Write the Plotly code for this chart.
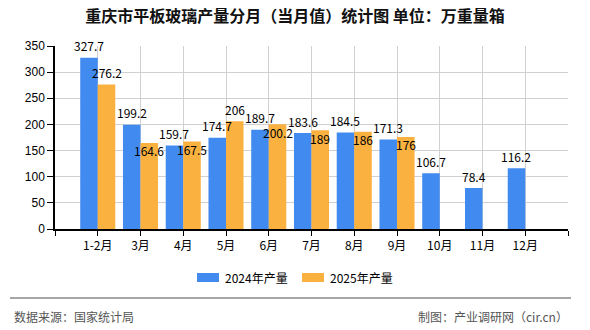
import plotly.graph_objects as go

categories = ["1-2月", "3月", "4月", "5月", "6月", "7月", "8月", "9月", "10月", "11月", "12月"]
values_2024 = [327.7, 199.2, 159.7, 174.7, 189.7, 183.6, 184.5, 171.3, 106.7, 78.4, 116.2]
values_2025 = [276.2, 164.6, 167.5, 206, 200.2, 189, 186, 176]
series_names = ["2024年产量", "2025年产量"]
series_colors = ["#418AEF", "#FBB140"]
# label placement of the 2025 series as seen in the reference (above / below the bar top)
above_2025 = [True, False, False, True, False, False, False, False]

x_idx = list(range(len(categories)))
label_font = dict(family="Noto Sans CJK SC, SimSun", size=12, color="#000000")
bar_shift = 8.8  # half a bar, in px

# plot-area geometry in px (for paper-coordinate placement of decorations)
L, R, T, B, W, H = 55, 22, 46, 101, 590, 330
PW, PH = W - L - R, H - T - B


def px_x(px):
    return (px - L) / PW


def px_y(py):
    return (H - B - py) / PH


fig = go.Figure()
fig.add_trace(go.Bar(
    x=x_idx, y=values_2024, name=series_names[0],
    marker=dict(color=series_colors[0], line=dict(width=0)), showlegend=False,
))
fig.add_trace(go.Bar(
    x=x_idx[:len(values_2025)], y=values_2025, name=series_names[1],
    marker=dict(color=series_colors[1], line=dict(width=0)), showlegend=False,
))

annotations = []
for i, v in zip(x_idx, values_2024):
    annotations.append(dict(x=i, y=v, xref="x", yref="y", text=f"{v:g}",
                            xshift=-bar_shift, yshift=12, showarrow=False,
                            xanchor="center", yanchor="middle", font=label_font))
for i, v, up in zip(x_idx, values_2025, above_2025):
    annotations.append(dict(x=i, y=v, xref="x", yref="y", text=f"{v:g}",
                            xshift=bar_shift, yshift=12 if up else -8, showarrow=False,
                            xanchor="center", yanchor="middle", font=label_font))

annotations += [
    dict(text="数据来源：国家统计局", xref="paper", yref="paper",
         x=px_x(12), y=px_y(316), xanchor="left", yanchor="middle",
         showarrow=False,
         font=dict(family="Noto Sans CJK SC", size=12, color="#555")),
    dict(text="制图：产业调研网（cir.cn）", xref="paper", yref="paper",
         x=px_x(570), y=px_y(316), xanchor="right", yanchor="middle",
         showarrow=False,
         font=dict(family="Noto Sans CJK SC", size=12, color="#555")),
]

shapes = [dict(
    type="line", xref="paper", yref="paper",
    x0=px_x(10), x1=px_x(571), y0=px_y(298), y1=px_y(298),
    line=dict(color="#888888", width=1.5),
)]

# custom legend (wide rectangular swatches like the reference)
legend_x = [197, 302]
for name, color, lx in zip(series_names, series_colors, legend_x):
    shapes.append(dict(type="rect", xref="paper", yref="paper",
                       x0=px_x(lx), x1=px_x(lx + 22), y0=px_y(282), y1=px_y(273),
                       fillcolor=color, line=dict(width=0)))
    annotations.append(dict(text=name, xref="paper", yref="paper",
                            x=px_x(lx + 26), y=px_y(277.5), xanchor="left", yanchor="middle",
                            showarrow=False,
                            font=dict(family="Noto Sans CJK SC", size=12, color="#000")))

tickvals = [-1] + x_idx + [len(categories)]
ticktext = [""] + categories + [""]

fig.update_layout(
    width=W, height=H,
    margin=dict(l=L, r=R, t=T, b=B),
    paper_bgcolor="white", plot_bgcolor="white",
    barmode="group", bargap=0.18, bargroupgap=0,
    font=dict(family="Noto Sans CJK SC, Arial", size=12, color="#000"),
    title=dict(
        text="重庆市平板玻璃产量分月（当月值）统计图 单位：万重量箱",
        x=0.5, xanchor="center", xref="container",
        y=1 - 16 / 330, yanchor="middle", yref="container",
        font=dict(family="Noto Sans CJK SC", size=16, color="#111", weight="bold"),
    ),
    xaxis=dict(
        range=[-1, len(categories)], tickmode="array",
        tickvals=tickvals, ticktext=ticktext,
        showgrid=True, gridcolor="#d0d0d0", gridwidth=1,
        showline=True, linecolor="#000", linewidth=1.5,
        ticks="outside", ticklen=5, tickcolor="#000",
        tickfont=dict(family="Noto Sans CJK SC", size=12, color="#000"),
        zeroline=False,
    ),
    yaxis=dict(
        range=[0, 350], dtick=50,
        showgrid=True, gridcolor="#d0d0d0", gridwidth=1,
        showline=True, linecolor="#000", linewidth=1.5,
        ticks="outside", ticklen=6, tickcolor="#000",
        tickfont=dict(family="Arial, Liberation Sans", size=12, color="#000"),
        zeroline=False,
    ),
    showlegend=False,
    shapes=shapes,
    annotations=annotations,
)

fig.write_html("out.html")
